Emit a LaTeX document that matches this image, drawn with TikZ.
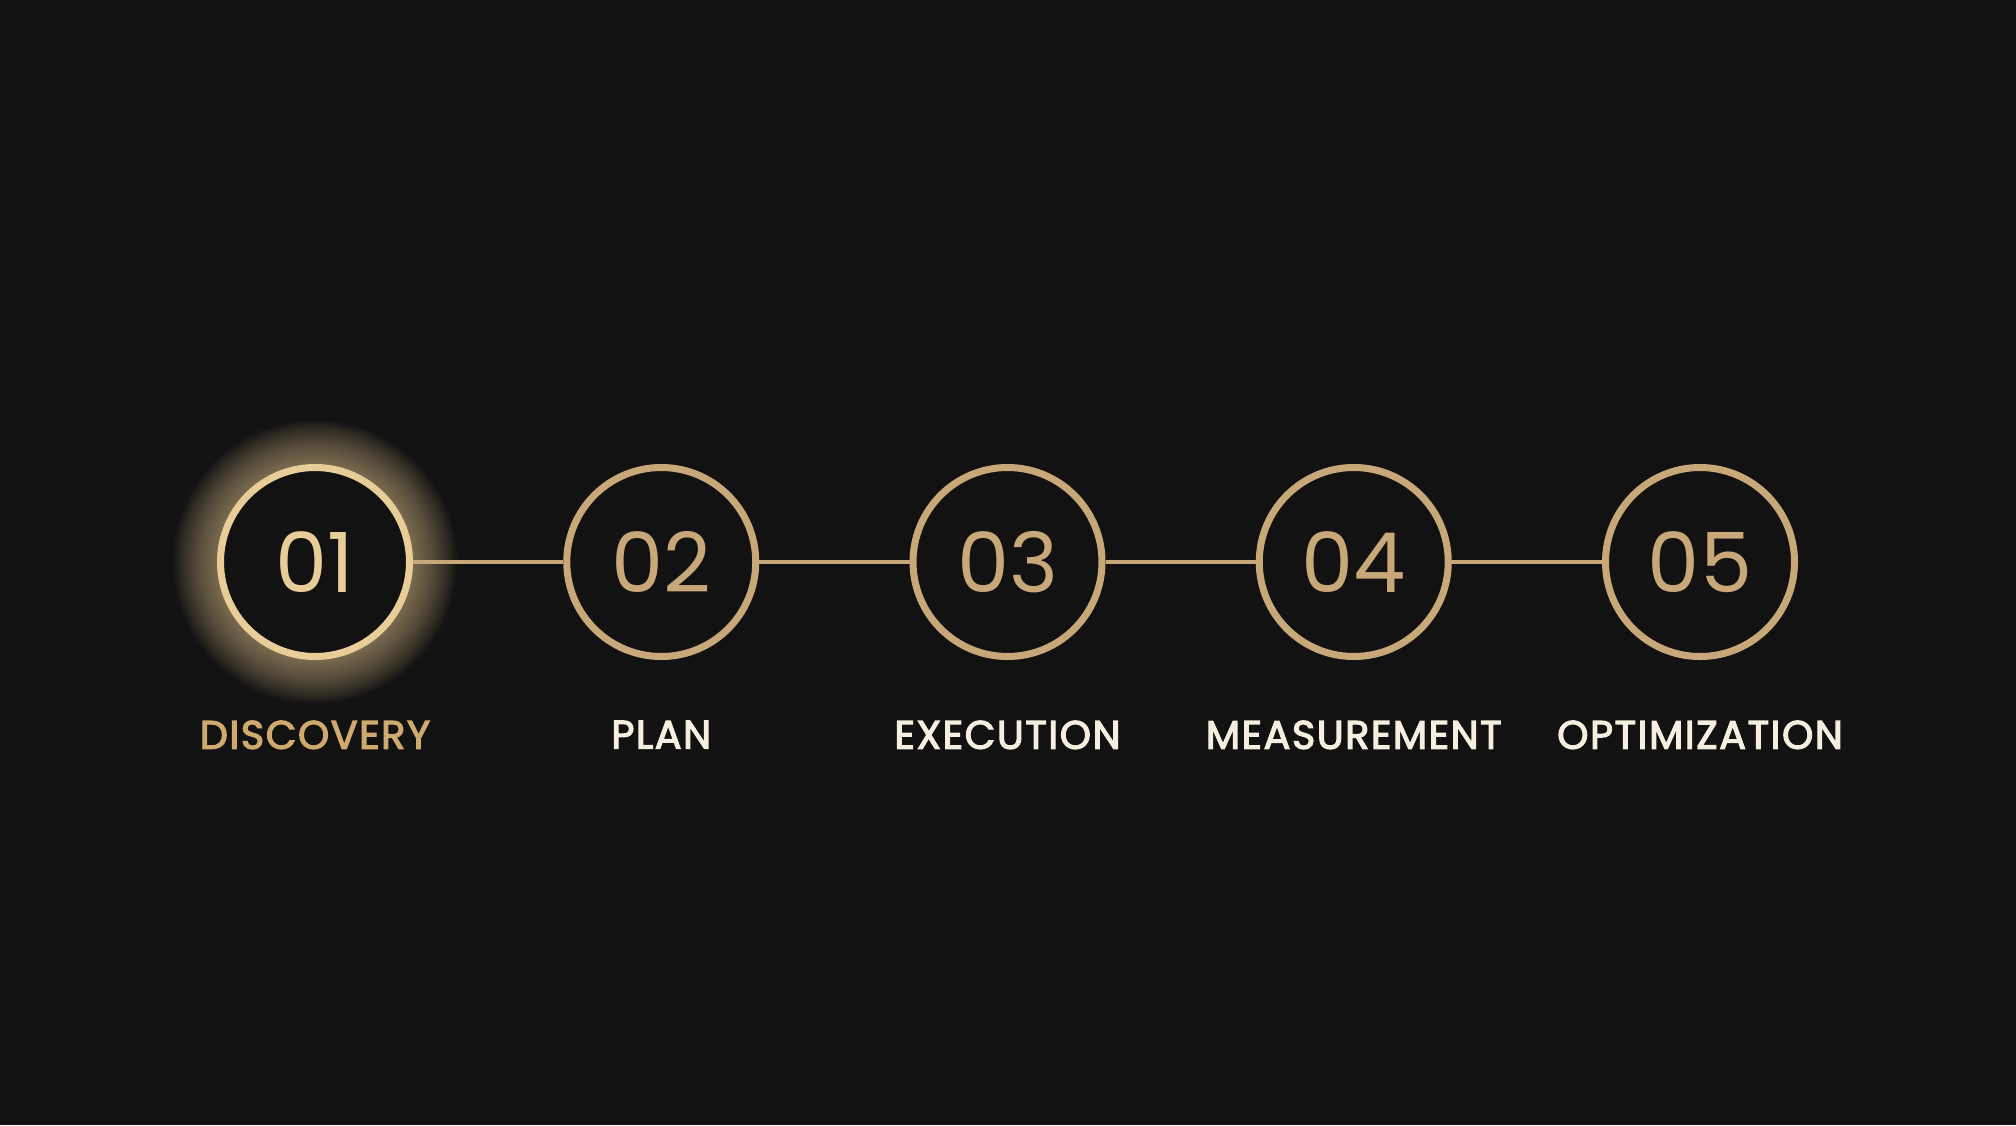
\documentclass[tikz,border=0pt]{standalone}
\usepackage{fontspec}
\setmainfont{Poppins}
\newfontfamily\labelfont{Poppins}[FakeBold=3, LetterSpace=4]
\usetikzlibrary{positioning}
\definecolor{bg}{HTML}{121212}
\definecolor{ring}{HTML}{C8A878}
\definecolor{ringlit}{HTML}{E9CD98}
\definecolor{cream}{HTML}{F6EEDF}
\definecolor{labelgold}{HTML}{CFA96D}
\tikzset{
	stepnode/.style={circle, draw=#1, text=#1, line width=2pt, fill=bg,
		minimum size=1.89cm, inner sep=0pt, font=\fontsize{23.6}{28}\selectfont},
	steplabel/.style={below=0.6cm of #1, inner sep=0pt, font=\labelfont\fontsize{11.3}{13}\selectfont},
	link/.style={draw=ring, line width=1.4pt}
}
\begin{document}
\begin{tikzpicture}
		\fill[bg] (0,0) rectangle (20.16,11.25);
		% glow round the first step
		\foreach \r in {0.98,1.0,...,1.44} {
			\fill[ringlit, opacity=0.03] (3.15,5.63) circle (\r);
		}
		\foreach \i/\name/\rc/\lc in {1/DISCOVERY/ringlit/labelgold,2/PLAN/ring/cream,3/EXECUTION/ring/cream,4/MEASUREMENT/ring/cream,5/OPTIMIZATION/ring/cream} {
			\node[stepnode=\rc] (s\i) at ({3.15+3.4625*(\i-1)},5.63) {0\i};
			\node[steplabel=s\i, text=\lc] (l\i) {\name};
		}
		\foreach \a/\b in {1/2,2/3,3/4,4/5} {
			\draw[link] (s\a) -- (s\b);
		}
		\end{tikzpicture}
\end{document}
